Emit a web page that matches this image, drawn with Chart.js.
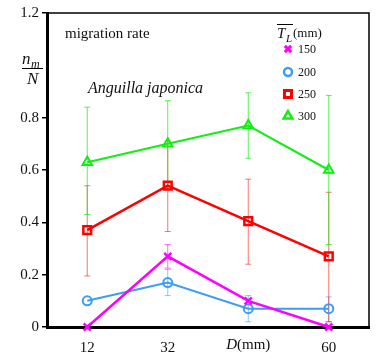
<!DOCTYPE html>
<html>
<head>
<meta charset="utf-8">
<script src="https://cdn.jsdelivr.net/npm/chart.js@4/dist/chart.umd.min.js"></script>
<style>
  html, body { margin: 0; padding: 0; background: #fff; }
  #wrap { width: 377px; height: 361px; position: relative; }
</style>
</head>
<body>
<div id="wrap"><canvas id="chart"></canvas></div>
<script>
// categories along D (mm); third tick label is replaced by the axis name
const distances = ['12', '32', '', '60']
// 1.0 is left out: the n_m/N label sits there
const yTicks = [0, 0.2, 0.4, 0.6, 0.8, 1.2]

// mean migration rate n_m/N for each T_L group
const rate150 = [0, 0.27, 0.10, 0]
const rate200 = [0.10, 0.17, 0.07, 0.07]
const rate250 = [0.37, 0.54, 0.405, 0.27]
const rate300 = [0.63, 0.70, 0.77, 0.60]

// error bar ends (null = no bar)
const low150 = [null, 0.225, null, null]
const high150 = [null, 0.315, null, null]
const low200 = [null, 0.12, 0.02, 0.02]
const high200 = [null, 0.22, 0.12, 0.115]
const low250 = [0.195, 0.365, 0.24, 0.02]
const high250 = [0.54, 0.71, 0.565, 0.515]
const low300 = [0.43, 0.53, 0.645, 0.315]
const high300 = [0.84, 0.865, 0.895, 0.885]

const serif = '"Liberation Serif", "DejaVu Serif", serif'

const series = [
  { label: '150', data: rate150, low: low150, high: high150, color: '#ff00ff', err: 'rgba(255,0,255,0.6)', style: 'crossRot', r: 5, w: 2.5 },
  { label: '200', data: rate200, low: low200, high: high200, color: '#3d9cf5', err: 'rgba(61,156,245,0.6)', style: 'circle', r: 4.5, w: 2 },
  { label: '250', data: rate250, low: low250, high: high250, color: '#ff0000', err: 'rgba(255,0,0,0.55)', style: 'rect', r: 5.5, w: 2.5 },
  { label: '300', data: rate300, low: low300, high: high300, color: '#11ee11', err: 'rgba(17,238,17,0.7)', style: 'triangle', r: 5.5, w: 2 }
]

// error bars drawn under the lines
const errorBars = {
  id: 'errorBars',
  beforeDatasetsDraw(chart) {
    const { ctx, scales: { x, y } } = chart
    ctx.save()
    ctx.lineWidth = 1
    series.forEach(s => {
      ctx.strokeStyle = s.err
      s.data.forEach((v, i) => {
        if (s.low[i] === null) return
        const px = x.getPixelForValue(i)
        const y1 = y.getPixelForValue(s.low[i])
        const y2 = y.getPixelForValue(s.high[i])
        ctx.beginPath()
        ctx.moveTo(px, y1); ctx.lineTo(px, y2)
        ctx.moveTo(px - 3, y1); ctx.lineTo(px + 3, y1)
        ctx.moveTo(px - 3, y2); ctx.lineTo(px + 3, y2)
        ctx.stroke()
      })
    })
    ctx.restore()
  }
}

// frame, annotations, legend and axis label
const decorations = {
  id: 'decorations',
  afterDraw(chart) {
    const { ctx, chartArea: a, scales: { x } } = chart
    ctx.save()
    ctx.strokeStyle = '#000'
    ctx.lineWidth = 1.5
    ctx.beginPath()
    ctx.moveTo(a.left, a.top); ctx.lineTo(a.right, a.top); ctx.lineTo(a.right, a.bottom)
    ctx.stroke()

    ctx.fillStyle = '#111'
    ctx.textBaseline = 'middle'
    ctx.textAlign = 'left'
    ctx.font = '15px ' + serif
    ctx.fillText('migration rate', 65, 34)
    ctx.font = 'italic 16px ' + serif
    ctx.fillText('Anguilla japonica', 88, 89)

    // y label n_m / N
    ctx.font = 'italic 17px ' + serif
    ctx.fillText('n', 22, 60)
    ctx.font = 'italic 12px ' + serif
    ctx.fillText('m', 31, 65)
    ctx.font = 'italic 17px ' + serif
    ctx.fillText('N', 27, 80)
    ctx.lineWidth = 1
    ctx.beginPath(); ctx.moveTo(22, 68.5); ctx.lineTo(43, 68.5); ctx.stroke()

    // x label D(mm) at third tick
    const dx = x.getPixelForValue(2)
    ctx.font = 'italic 15px ' + serif
    const dW = ctx.measureText('D').width
    ctx.font = '15px ' + serif
    const mW = ctx.measureText('(mm)').width
    const sx = dx - (dW + mW) / 2
    ctx.font = 'italic 15px ' + serif
    ctx.fillText('D', sx, 345)
    ctx.font = '15px ' + serif
    ctx.fillText('(mm)', sx + dW, 345)

    // legend title T̄_L(mm)
    ctx.font = 'italic 15px ' + serif
    ctx.fillText('T', 277, 34)
    ctx.font = 'italic 11px ' + serif
    ctx.fillText('L', 286, 39)
    ctx.font = '13px ' + serif
    ctx.fillText('(mm)', 293, 34)
    ctx.beginPath(); ctx.moveTo(277, 24.5); ctx.lineTo(293, 24.5); ctx.stroke()

    // legend entries
    const rows = [49, 72, 94, 116]
    series.forEach((s, i) => {
      ctx.strokeStyle = s.color
      ctx.fillStyle = '#fff'
      ctx.lineWidth = s.w + 0.5
      Chart.helpers.drawPoint(ctx, { pointStyle: s.style, radius: s.r - 0.5, rotation: 0, borderWidth: s.w + 0.5 }, 288, rows[i])
      ctx.fillStyle = '#111'
      ctx.font = '12px ' + serif
      ctx.fillText(s.label, 298, rows[i] + 0.5)
    })
    ctx.restore()
  }
}

new Chart(document.getElementById('chart'), {
  type: 'line',
  data: {
    labels: distances,
    datasets: series.map(s => ({
      label: s.label,
      data: s.data,
      borderColor: s.color,
      backgroundColor: '#fff',
      borderWidth: s.w,
      pointStyle: s.style,
      pointRadius: s.r,
      pointBorderWidth: s.w,
      pointBorderColor: s.color,
      pointBackgroundColor: 'rgba(255,255,255,0)',
      tension: 0,
      clip: false
    }))
  },
  options: {
    responsive: true,
    maintainAspectRatio: false,
    animation: false,
    layout: { padding: { left: 0, top: 13, right: 8, bottom: 0 } },
    plugins: { legend: { display: false }, tooltip: { enabled: false } },
    scales: {
      x: {
        offset: true,
        grid: { display: false },
        border: { display: true, color: '#000', width: 3 },
        ticks: { color: '#111', font: { family: serif, size: 15 }, padding: 4, maxRotation: 0 },
        afterFit(scale) { scale.height = 34 }
      },
      y: {
        min: 0,
        max: 1.2,
        afterBuildTicks(scale) { scale.ticks = yTicks.map(v => ({ value: v })) },
        grid: { display: true, drawOnChartArea: false, drawTicks: true, tickLength: 5, color: '#000', lineWidth: 1.5 },
        border: { display: true, color: '#000', width: 3 },
        ticks: {
          color: '#111',
          font: { family: serif, size: 15 },
          padding: 3,
          callback: v => (v === 0 ? '0' : v.toFixed(1))
        },
        afterFit(scale) { scale.width = 47 }
      }
    }
  },
  plugins: [errorBars, decorations]
})
</script>
</body>
</html>
